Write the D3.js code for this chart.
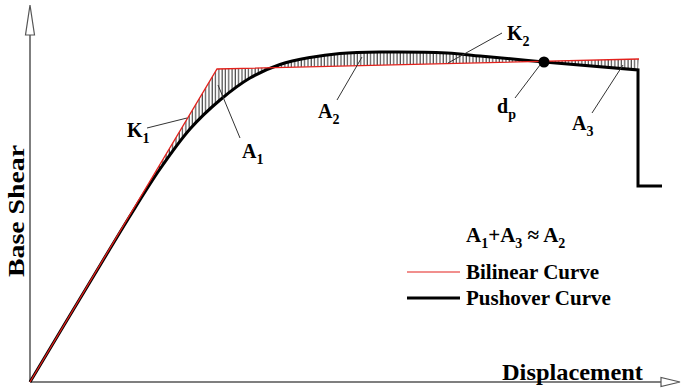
<!DOCTYPE html>
<html>
<head>
<meta charset="utf-8">
<script src="https://cdn.jsdelivr.net/npm/d3@7"></script>
<style>
  body { margin: 0; background: #fff; }
  text { font-family: "Liberation Serif", "Times New Roman", serif; font-weight: bold; fill: #000; }
</style>
</head>
<body>
<div id="chart"></div>
<script>
// displacement / base shear (arbitrary units)
const bilinear = [[0, 0], [18.7, 31.3], [60.9, 32.3]]
// rising part of the pushover curve, up to the performance point dp
const pushoverRise = [
  [0, 0], [6.0, 10.0], [10.0, 16.6], [13.0, 21.3], [16.0, 25.3], [19.0, 28.2],
  [22.0, 30.4], [25.0, 31.75], [28.0, 32.45], [31.0, 32.85], [35.0, 33.0],
  [41.7, 32.9], [45.0, 32.6], [48.3, 32.3], [51.4, 32.0]
]
// after dp: softening then sudden drop
const pushoverTail = [[51.4, 32.0], [60.8, 31.2], [60.8, 19.6], [63.2, 19.6]]
const dp = [51.4, 32.0]

// labels: text, subscript, anchor point, leader from, leader to
const labels = [
  { t: 'K', s: '1', at: [9.7, 24.5], from: [11.7, 25.4], to: [15.7, 26.4] },
  { t: 'A', s: '1', at: [21.2, 22.4], from: [18.8, 29.7], to: [21.0, 24.4] },
  { t: 'A', s: '2', at: [28.8, 26.4], from: [33.2, 32.5], to: [30.7, 28.2] },
  { t: 'K', s: '2', at: [47.7, 34.2], from: [47.2, 34.9], to: [41.8, 31.9] },
  { t: 'd', s: 'p', at: [46.7, 26.9], from: [51.0, 31.7], to: [48.5, 28.4] },
  { t: 'A', s: '3', at: [54.2, 25.2], from: [59.3, 31.7], to: [56.2, 26.9] }
]
const legendItems = [
  { name: 'Bilinear Curve', color: '#e3211c', width: 1.2 },
  { name: 'Pushover Curve', color: '#000', width: 3 }
]

const W = 682, H = 391
const x = d3.scaleLinear().domain([0, 65]).range([30, 680])
const y = d3.scaleLinear().domain([0, 37.7]).range([382, 5])

const svg = d3.select('#chart').append('svg')
  .attr('width', W).attr('height', H)

const defs = svg.append('defs')
defs.append('pattern')
  .attr('id', 'hatch')
  .attr('patternUnits', 'userSpaceOnUse')
  .attr('width', 3.3).attr('height', 10)
  .append('line')
  .attr('x1', 1).attr('x2', 1).attr('y1', 0).attr('y2', 10)
  .attr('stroke', '#111').attr('stroke-width', 0.9)

const line = d3.line().x(d => x(d[0])).y(d => y(d[1]))
const curve = d3.line().x(d => x(d[0])).y(d => y(d[1])).curve(d3.curveCatmullRom.alpha(0.5))

// hatched area between bilinear and pushover
let tailBack = pushoverTail.slice(0, 2).reverse()
let area = line(bilinear) +
  'L' + x(tailBack[0][0]) + ',' + y(tailBack[0][1]) +
  'L' + x(tailBack[1][0]) + ',' + y(tailBack[1][1]) +
  'L' + curve(pushoverRise.slice().reverse()).slice(1) + 'Z'
svg.append('path').attr('d', area).attr('fill', 'url(#hatch)').attr('stroke', 'none')

// axes with open arrow heads
let ax = svg.append('g').attr('stroke', '#555').attr('stroke-width', 1.5).attr('fill', '#fff')
ax.append('line')
  .attr('x1', x(0)).attr('y1', y(0)).attr('x2', x(0)).attr('y2', y.range()[1] + 28)
ax.append('line')
  .attr('x1', x(0)).attr('y1', y(0)).attr('x2', x.range()[1] - 18).attr('y2', y(0))
let tipY = y.range()[1], cx = x(0)
ax.append('path').attr('stroke-width', 1.2)
  .attr('d', `M${cx},${tipY}L${cx - 4.5},${tipY + 30}L${cx + 4.5},${tipY + 30}Z`)
let tipX = x.range()[1], cy = y(0)
ax.append('path').attr('stroke-width', 1.2)
  .attr('d', `M${tipX},${cy}L${tipX - 19},${cy - 4.5}L${tipX - 19},${cy + 4.5}Z`)

// curves
svg.append('path').attr('d', curve(pushoverRise))
  .attr('fill', 'none').attr('stroke', '#000').attr('stroke-width', 3)
svg.append('path').attr('d', line(pushoverTail))
  .attr('fill', 'none').attr('stroke', '#000').attr('stroke-width', 3)
  .attr('stroke-linejoin', 'miter')
svg.append('path').attr('d', line(bilinear))
  .attr('fill', 'none').attr('stroke', '#e3211c').attr('stroke-width', 1.3)
svg.append('circle').attr('cx', x(dp[0])).attr('cy', y(dp[1])).attr('r', 5.5).attr('fill', '#000')

// labels + leaders
let lab = svg.append('g')
labels.forEach(l => {
  lab.append('line')
    .attr('x1', x(l.from[0])).attr('y1', y(l.from[1]))
    .attr('x2', x(l.to[0])).attr('y2', y(l.to[1]))
    .attr('stroke', '#333').attr('stroke-width', 1)
  let t = lab.append('text').attr('x', x(l.at[0])).attr('y', y(l.at[1]))
    .style('font-size', '20px')
  t.append('tspan').text(l.t)
  t.append('tspan').text(l.s).attr('dy', 6).style('font-size', '14px')
})

// axis titles
svg.append('text').text('Displacement')
  .attr('x', 502).attr('y', 380).style('font-size', '24px')
  .attr('textLength', 141).attr('lengthAdjust', 'spacingAndGlyphs')
svg.append('text').text('Base Shear')
  .attr('transform', 'translate(24,277) rotate(-90)')
  .style('font-size', '24px')
  .attr('textLength', 132).attr('lengthAdjust', 'spacingAndGlyphs')

// equation
let eq = svg.append('text').attr('x', 466).attr('y', 242).style('font-size', '21px')
eq.append('tspan').text('A')
eq.append('tspan').text('1').attr('dy', 6).style('font-size', '14px')
eq.append('tspan').text('+A').attr('dy', -6)
eq.append('tspan').text('3').attr('dy', 6).style('font-size', '14px')
eq.append('tspan').text(' \u2248 A').attr('dy', -6)
eq.append('tspan').text('2').attr('dy', 6).style('font-size', '14px')

// legend
let lg = svg.append('g').attr('transform', 'translate(407,272)')
lg.selectAll('g').data(legendItems).enter().append('g')
  .attr('transform', (d, i) => `translate(0,${i * 26})`)
  .each(function (d) {
    let g = d3.select(this)
    g.append('line').attr('x1', 0).attr('x2', 53).attr('y1', 0).attr('y2', 0)
      .attr('stroke', d.color).attr('stroke-width', d.width)
    g.append('text').text(d.name).attr('x', 59).attr('y', 7).style('font-size', '21px')
  })
</script>
</body>
</html>
